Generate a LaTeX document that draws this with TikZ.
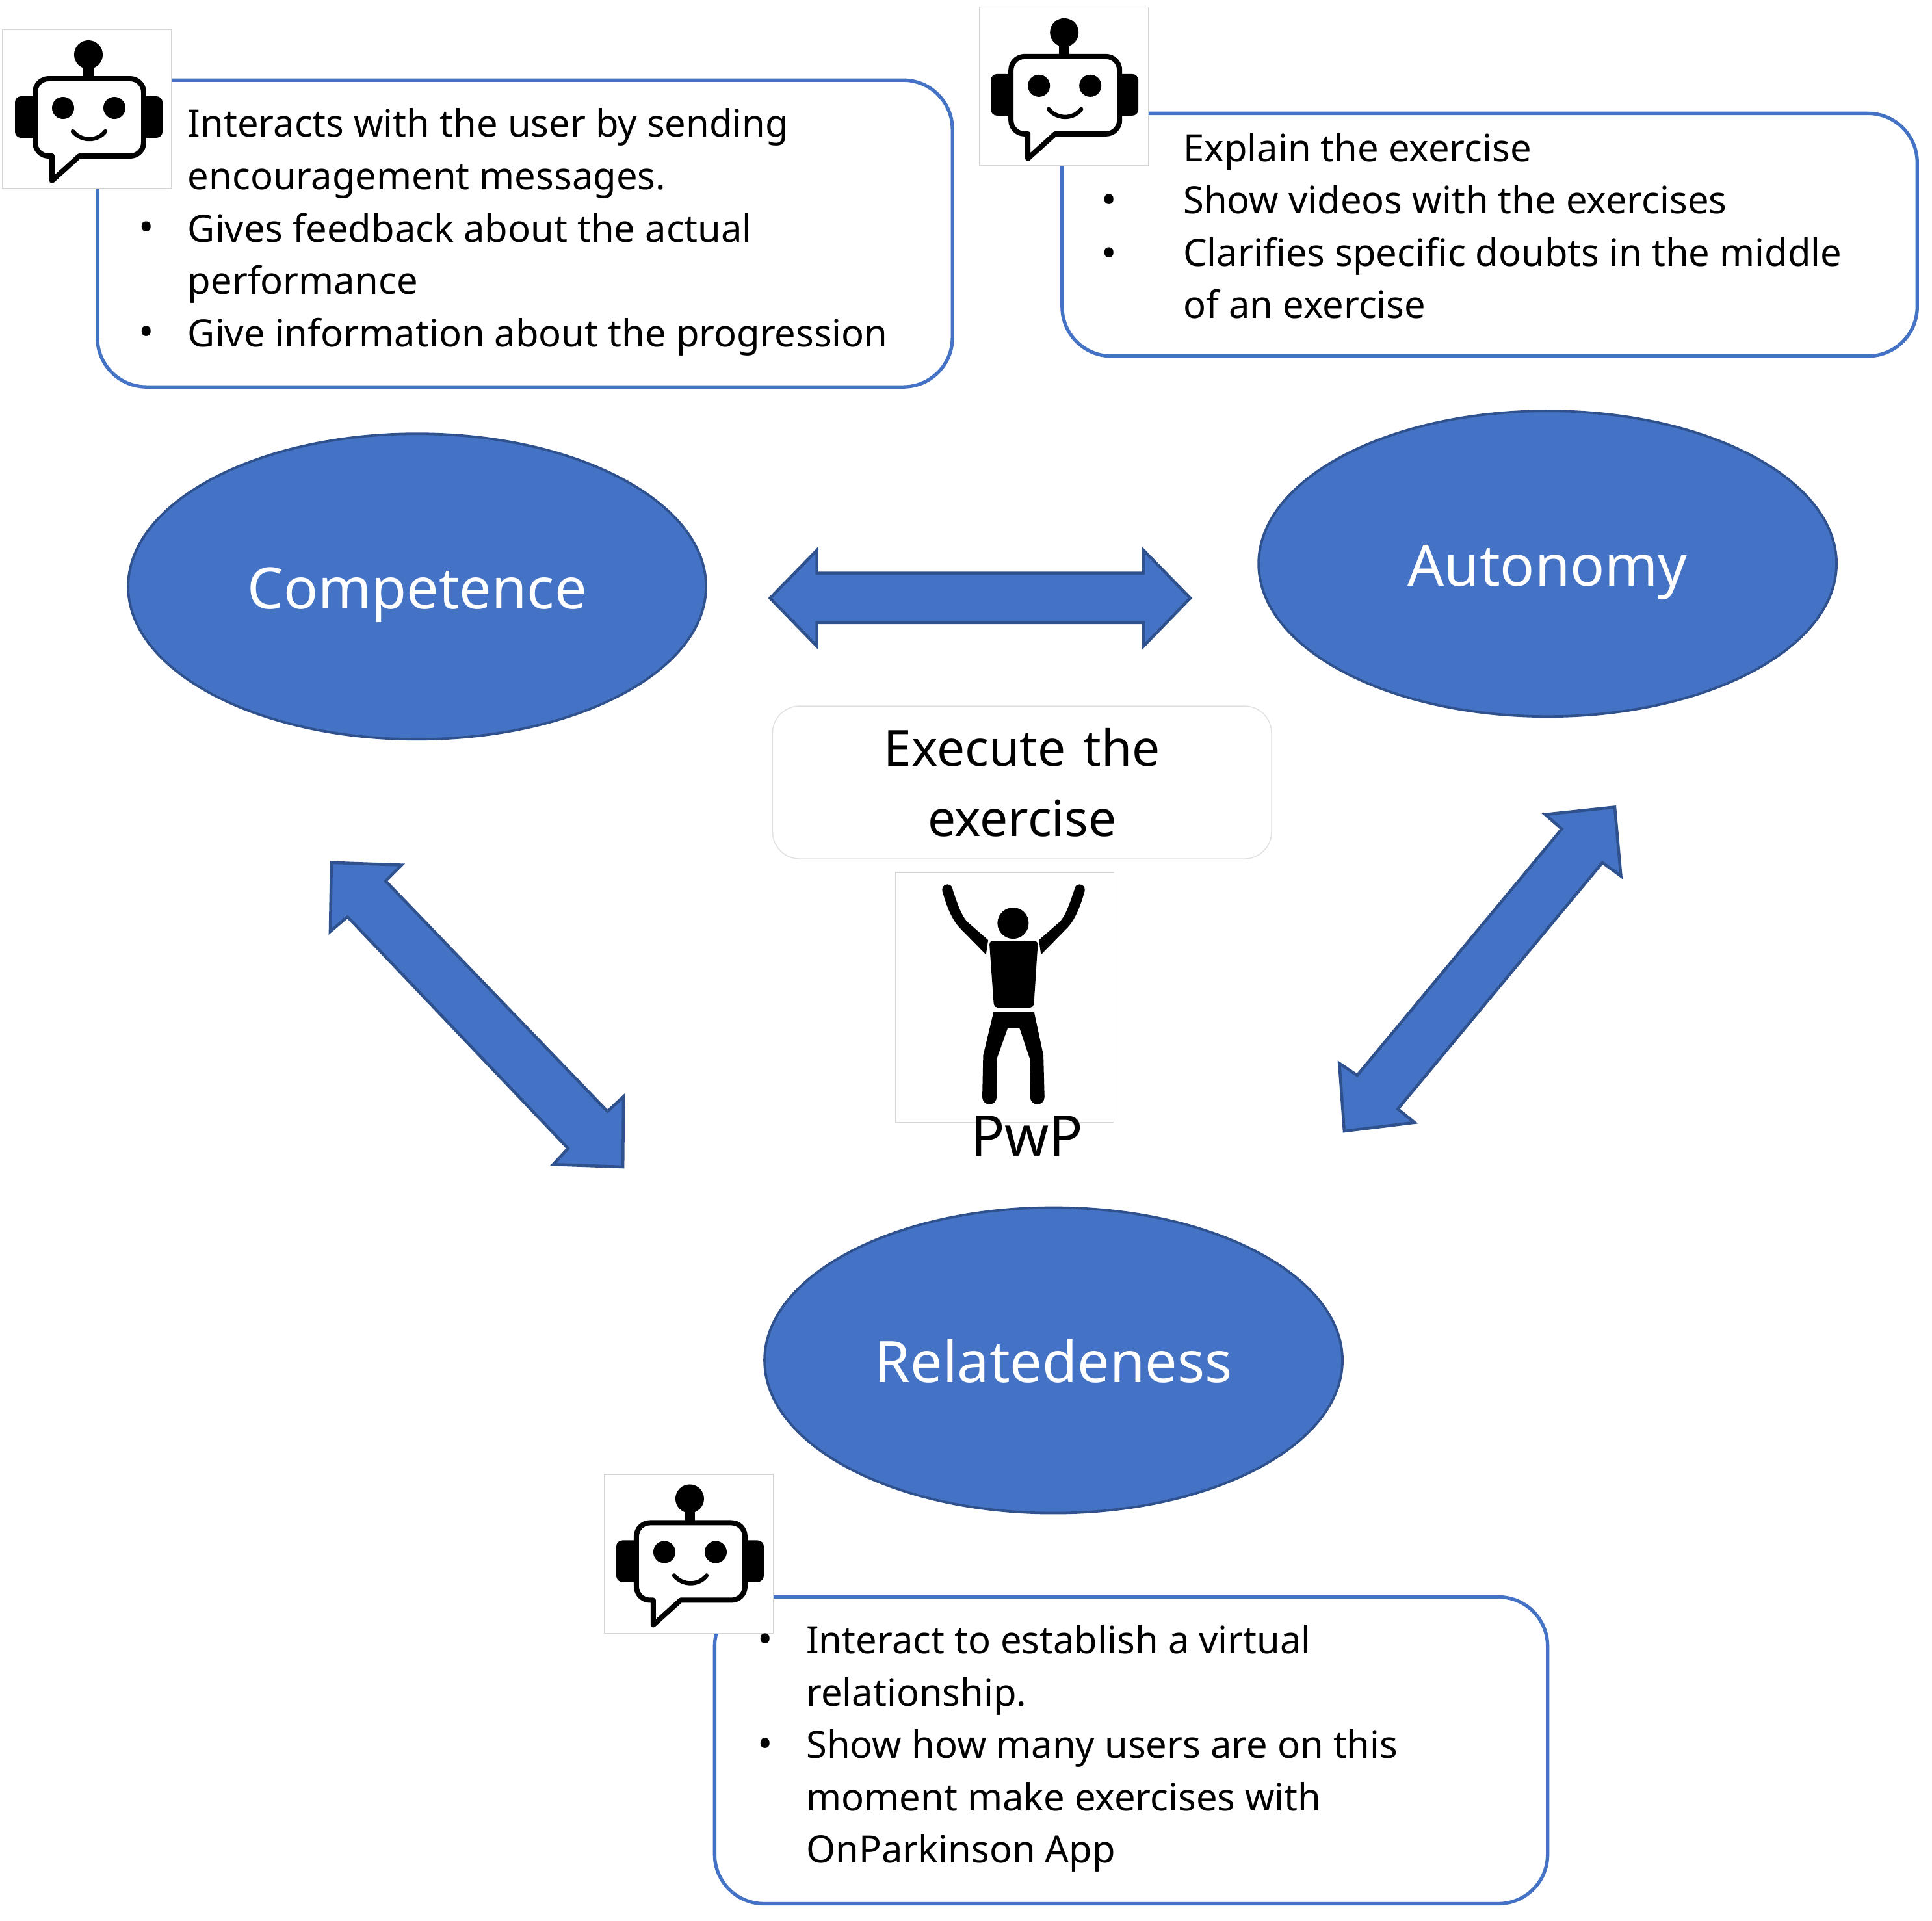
\documentclass[tikz,border=0pt]{standalone}
\usepackage{fontspec}
\setmainfont{Noto Sans}
\usetikzlibrary{shapes.geometric}
\definecolor{mainblue}{HTML}{4472C4}
\definecolor{darkblue}{HTML}{2F528F}
\definecolor{faint}{HTML}{D4D4D4}
\tikzset{
  x=0.5pt,y=-0.5pt,
  oval/.style={ellipse,fill=mainblue,draw=darkblue,line width=1pt,minimum width=234.5pt,minimum height=124pt,inner sep=0pt,text=white,text height=18pt,text depth=0pt,font=\fontsize{23.2}{28}\selectfont},
  bubble/.style={rectangle,rounded corners=20pt,draw=mainblue,line width=1.4pt,fill=white,inner sep=0pt},
  iconbox/.style={rectangle,draw=faint,line width=0.4pt,fill=white,minimum width=68.5pt,minimum height=64.5pt,inner sep=0pt},
  body/.style={align=left,anchor=north west,inner sep=0pt,font=\fontsize{15.27}{21.25}\selectfont},
  dot/.style={inner sep=0pt,font=\fontsize{16.5}{18}\selectfont},
  bigarrow/.style={fill=mainblue,draw=darkblue,line width=1.2pt,line join=miter},
  robot/.pic={
    \begin{scope}[scale=0.5276]
      \fill (136,84) circle (22);
      \fill (128,95) rectangle (144,125);
      \fill[rounded corners=2.5pt] (23,148) rectangle (60,212);
      \fill[rounded corners=2.5pt] (215,148) rectangle (250,212);
      \draw[line width=2.1pt,fill=white,line join=round,rounded corners=5.5pt]
        (54,121) -- (221,121) -- (221,240) [sharp corners] -- (122,240) -- (80,278) -- (80,240) [rounded corners=5.5pt] -- (54,240) -- cycle;
      \fill (97,166) circle (17);
      \fill (176,166) circle (17);
      \draw[line width=1.7pt,line cap=round] (112,202) .. controls (125,218) and (150,218) .. (162,202);
    \end{scope}
  }
}
\begin{document}
\begin{tikzpicture}
\useasboundingbox (0,0) rectangle (1568,1559);
% text bubbles
\node[bubble,minimum width=347pt,minimum height=124.5pt] (box1) at (426,189.5) {};
\node[bubble,minimum width=347pt,minimum height=98.5pt] (box2) at (1209,190.5) {};
\node[bubble,minimum width=338pt,minimum height=124.5pt] (box3) at (918,1420.5) {};
% icon tiles
\node[iconbox] (icon1) at (70.5,88.5) {};
\node[iconbox] (icon2) at (863.5,70) {};
\node[iconbox] (icon3) at (559,1261) {};
\pic at (0,0) {robot};
\pic at (792,-18) {robot};
\pic at (488,1172) {robot};
% bubble texts
\node[body] (t1) at (152,87.7) {Interacts with the user by sending\\encouragement messages.\\Gives feedback about the actual\\performance\\Give information about the progression};
\node[dot] (b1a) at (119,188) {•};
\node[dot] (b1b) at (119,273) {•};
\node[body] (t2) at (960,107.3) {Explain the exercise\\Show videos with the exercises\\Clarifies specific doubts in the middle\\of an exercise};
\node[dot] (b2a) at (900,166) {•};
\node[dot] (b2b) at (900,209) {•};
\node[body] (t3) at (654,1318.3) {Interact to establish a virtual\\relationship.\\Show how many users are on this\\moment make exercises with\\OnParkinson App};
\node[dot] (b3a) at (621,1334) {•};
\node[dot] (b3b) at (621,1419) {•};
% ovals
\node[oval] (comp) at (338.5,476) {Competence};
\node[oval] (auto) at (1256,457.5) {Autonomy};
\node[oval] (rel) at (855,1104) {Relatedeness};
% double arrows
\draw[bigarrow] (625,485.4) -- (663,446.5) -- (663,465.2) -- (928,465.2) -- (928,446.5) -- (966,485.4) -- (928,524.5) -- (928,505.3) -- (663,505.3) -- (663,524.5) -- cycle;
\draw[bigarrow] (269,700) -- (326,702) -- (313,715) -- (493,902) -- (506,890) -- (505.5,947) -- (449,945) -- (461,932) -- (282,744) -- (268,756) -- cycle;
\draw[bigarrow] (1310.5,655) -- (1315.5,711) -- (1300.5,700) -- (1134.5,900) -- (1148,911) -- (1091,918) -- (1087,863) -- (1101.5,872.7) -- (1267.5,672.7) -- (1254,661) -- cycle;
% execute label
\node[rectangle,rounded corners=11pt,draw=faint!70,line width=0.4pt,fill=white,minimum width=202.5pt,minimum height=62pt,align=center,inner sep=0pt,font=\fontsize{20.2}{28.5}\selectfont] (exec) at (829.5,635) {Execute\hspace{2pt} the\\exercise};
% person
\node[rectangle,draw=faint,line width=0.4pt,fill=white,minimum width=88.5pt,minimum height=101.5pt,inner sep=0pt] (pbox) at (815.5,809.5) {};
\begin{scope}[shift={(728.1,707)},scale=0.17587]
  \fill (535,240) circle (72);
  \fill[rounded corners=1.5pt] (425,322) -- (650,322) -- (630,630) -- (447,630) -- cycle;
  \fill (445,650) -- (632,650) -- (675,850) -- (680,1043) -- (615,1043) -- (612,865) -- (565,725) -- (510,725) -- (460,865) -- (458,1043) -- (393,1043) -- (397,850) -- cycle;
  \fill (426,1043) circle (33);
  \fill (647,1043) circle (33);
  \fill (232,85) circle (24);
  \fill (842,85) circle (24);
  \fill (208,90) .. controls (225,150) and (250,225) .. (295,268) -- (410,385) -- (420,318) -- (325,235) .. controls (295,205) and (275,140) .. (256,85) -- cycle;
  \fill (866,90) .. controls (849,150) and (824,225) .. (779,268) -- (664,385) -- (654,318) -- (749,235) .. controls (779,205) and (799,140) .. (818,85) -- cycle;
\end{scope}
\node[inner sep=0pt,font=\fontsize{22.9}{28}\selectfont] (pwp) at (833.5,922) {PwP};
\end{tikzpicture}
\end{document}
